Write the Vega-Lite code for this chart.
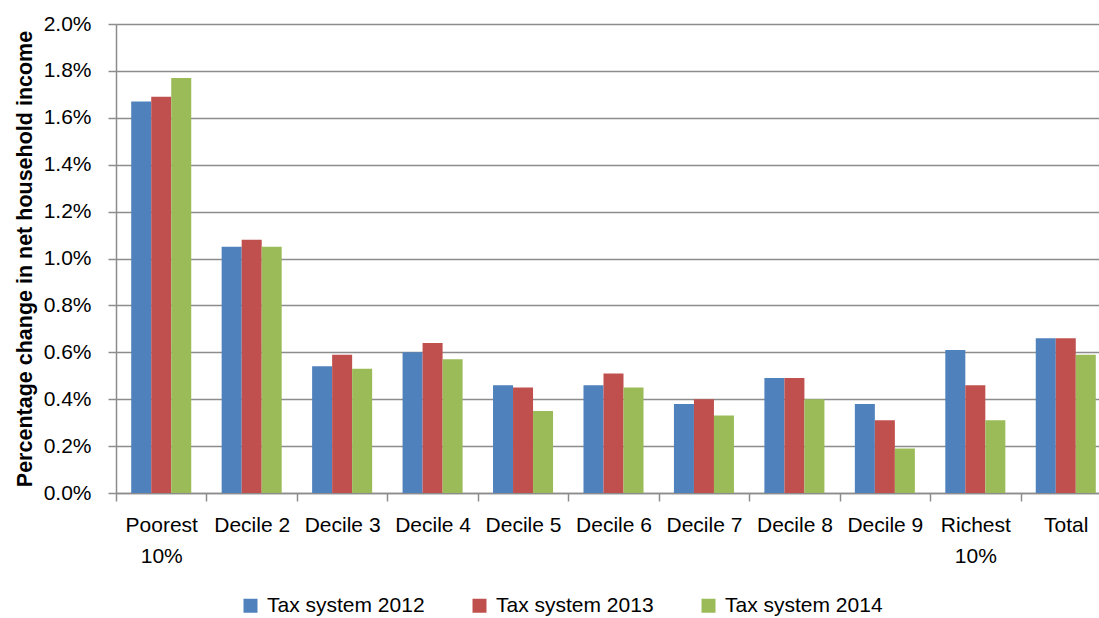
{
  "$schema": "https://vega.github.io/schema/vega-lite/v6.json",
  "width": 995,
  "height": 469,
  "autosize": {"type": "none"},
  "padding": {"left": 116, "top": 24, "right": 0, "bottom": 125},
  "background": "white",
  "config": {"view": {"stroke": null}},
  "data": {
    "values": [
      {"group": "Poorest 10%", "system": "Tax system 2012", "value": 0.0167},
      {"group": "Poorest 10%", "system": "Tax system 2013", "value": 0.0169},
      {"group": "Poorest 10%", "system": "Tax system 2014", "value": 0.0177},
      {"group": "Decile 2", "system": "Tax system 2012", "value": 0.0105},
      {"group": "Decile 2", "system": "Tax system 2013", "value": 0.0108},
      {"group": "Decile 2", "system": "Tax system 2014", "value": 0.0105},
      {"group": "Decile 3", "system": "Tax system 2012", "value": 0.0054},
      {"group": "Decile 3", "system": "Tax system 2013", "value": 0.0059},
      {"group": "Decile 3", "system": "Tax system 2014", "value": 0.0053},
      {"group": "Decile 4", "system": "Tax system 2012", "value": 0.0060},
      {"group": "Decile 4", "system": "Tax system 2013", "value": 0.0064},
      {"group": "Decile 4", "system": "Tax system 2014", "value": 0.0057},
      {"group": "Decile 5", "system": "Tax system 2012", "value": 0.0046},
      {"group": "Decile 5", "system": "Tax system 2013", "value": 0.0045},
      {"group": "Decile 5", "system": "Tax system 2014", "value": 0.0035},
      {"group": "Decile 6", "system": "Tax system 2012", "value": 0.0046},
      {"group": "Decile 6", "system": "Tax system 2013", "value": 0.0051},
      {"group": "Decile 6", "system": "Tax system 2014", "value": 0.0045},
      {"group": "Decile 7", "system": "Tax system 2012", "value": 0.0038},
      {"group": "Decile 7", "system": "Tax system 2013", "value": 0.0040},
      {"group": "Decile 7", "system": "Tax system 2014", "value": 0.0033},
      {"group": "Decile 8", "system": "Tax system 2012", "value": 0.0049},
      {"group": "Decile 8", "system": "Tax system 2013", "value": 0.0049},
      {"group": "Decile 8", "system": "Tax system 2014", "value": 0.0040},
      {"group": "Decile 9", "system": "Tax system 2012", "value": 0.0038},
      {"group": "Decile 9", "system": "Tax system 2013", "value": 0.0031},
      {"group": "Decile 9", "system": "Tax system 2014", "value": 0.0019},
      {"group": "Richest 10%", "system": "Tax system 2012", "value": 0.0061},
      {"group": "Richest 10%", "system": "Tax system 2013", "value": 0.0046},
      {"group": "Richest 10%", "system": "Tax system 2014", "value": 0.0031},
      {"group": "Total", "system": "Tax system 2012", "value": 0.0066},
      {"group": "Total", "system": "Tax system 2013", "value": 0.0066},
      {"group": "Total", "system": "Tax system 2014", "value": 0.0059}
    ]
  },
  "mark": {"type": "bar"},
  "encoding": {
    "x": {
      "field": "group",
      "type": "nominal",
      "sort": ["Poorest 10%", "Decile 2", "Decile 3", "Decile 4", "Decile 5", "Decile 6", "Decile 7", "Decile 8", "Decile 9", "Richest 10%", "Total"],
      "scale": {"paddingInner": 0, "paddingOuter": 0},
      "axis": {
        "title": null,
        "labelAngle": 0,
        "tickBand": "extent",
        "tickSize": 8,
        "tickColor": "#8c8c8c",
        "tickWidth": 1.5,
        "domainColor": "#8c8c8c",
        "domainWidth": 1.5,
        "labelFont": "Liberation Sans",
        "labelFontSize": 21,
        "labelColor": "black",
        "labelPadding": 13,
        "labelLineHeight": 31,
        "labelExpr": "datum.value == 'Poorest 10%' ? ['Poorest', '10%'] : datum.value == 'Richest 10%' ? ['Richest', '10%'] : datum.value"
      }
    },
    "xOffset": {
      "field": "system",
      "type": "nominal",
      "scale": {"paddingInner": 0, "paddingOuter": 0.76}
    },
    "y": {
      "field": "value",
      "type": "quantitative",
      "scale": {"domain": [0, 0.02], "nice": false},
      "axis": {
        "values": [0, 0.002, 0.004, 0.006, 0.008, 0.01, 0.012, 0.014, 0.016, 0.018, 0.02],
        "format": ".1%",
        "title": "Percentage change in net household income",
        "titleFont": "Liberation Sans",
        "titleFontSize": 21.5,
        "titleFontWeight": "bold",
        "titleColor": "black",
        "titlePadding": 7,
        "labelFont": "Liberation Sans",
        "labelFontSize": 21,
        "labelColor": "black",
        "labelPadding": 17,
        "tickSize": 8,
        "tickColor": "#8c8c8c",
        "tickWidth": 1.5,
        "domainColor": "#8c8c8c",
        "domainWidth": 1.5,
        "grid": true,
        "gridColor": "#8c8c8c",
        "gridWidth": 1.5
      }
    },
    "color": {
      "field": "system",
      "type": "nominal",
      "scale": {"domain": ["Tax system 2012", "Tax system 2013", "Tax system 2014"], "range": ["#4F81BD", "#C0504D", "#9BBB59"]},
      "legend": {
        "title": null,
        "orient": "none",
        "direction": "horizontal",
        "legendX": 124,
        "legendY": 571,
        "symbolType": "square",
        "symbolSize": 196,
        "symbolStrokeWidth": 0,
        "labelFont": "Liberation Sans",
        "labelFontSize": 21,
        "labelColor": "black",
        "labelOffset": 6,
        "columnPadding": 44
      }
    }
  }
}
